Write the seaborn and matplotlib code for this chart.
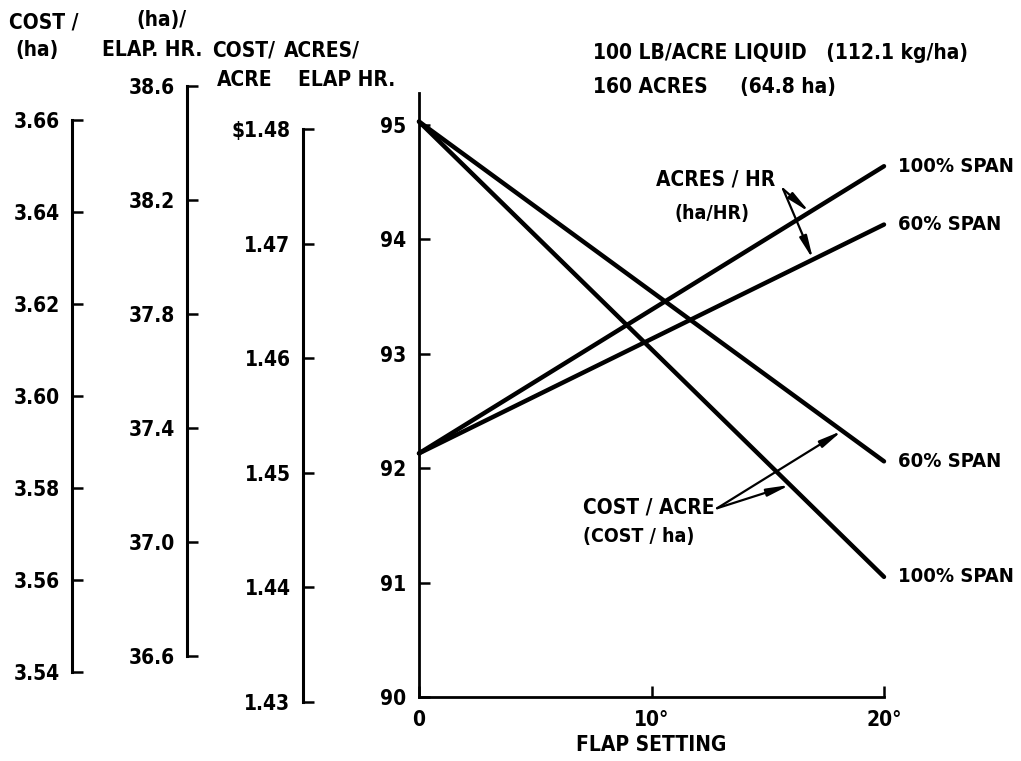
import numpy as np
import pandas as pd
import seaborn as sns
import matplotlib.pyplot as plt
from matplotlib import font_manager

# values
flap = [0, 20]
acres_100 = [92.13, 94.64]
acres_60 = [92.13, 94.13]
cost_60 = [95.03, 92.06]
cost_100 = [95.03, 91.05]

main_ticks = [90, 91, 92, 93, 94, 95]
cost_acre_ticks = [1.43, 1.44, 1.45, 1.46, 1.47, 1.48]
cost_acre_labels = ["1.43", "1.44", "1.45", "1.46", "1.47", "$1.48"]
ha_hr_ticks = [36.6, 37.0, 37.4, 37.8, 38.2, 38.6]
cost_ha_ticks = [3.54, 3.56, 3.58, 3.60, 3.62, 3.64, 3.66]
x_ticks = [0, 10, 20]
x_labels = ["0", "10°", "20°"]

sns.set_style("white")
names = {f.name for f in font_manager.fontManager.ttflist}
narrow = [n for n in ["Liberation Sans Narrow", "DejaVu Sans Condensed"] if n in names]
plt.rcParams["font.family"] = narrow + ["DejaVu Sans"]
plt.rcParams["font.stretch"] = "condensed"
plt.rcParams["font.weight"] = "bold"
plt.rcParams["font.size"] = 15
for k in ["text.color", "axes.labelcolor", "xtick.color", "ytick.color"]:
    plt.rcParams[k] = "black"

W, H = 1021, 761
fig = plt.figure(figsize=(W / 100, H / 100), dpi=100)


def fx(px):
    return px / W


def fy(py):
    return 1 - py / H


# main plot
ax = fig.add_axes([fx(419), fy(697), fx(884) - fx(419), fy(93) - fy(697)])
ax.set_facecolor("none")

df = pd.DataFrame({
    "flap": flap * 4,
    "val": acres_100 + acres_60 + cost_60 + cost_100,
    "series": ["a100"] * 2 + ["a60"] * 2 + ["c60"] * 2 + ["c100"] * 2,
})
sns.lineplot(data=df, x="flap", y="val", units="series", estimator=None,
             color="black", lw=3.2, ax=ax, clip_on=False)

ax.set_xlim(0, 20)
ax.set_ylim(90, 95.28)
ax.set_xticks(x_ticks)
ax.set_xticklabels(x_labels)
ax.set_yticks(main_ticks)
ax.set_yticklabels([str(t) for t in main_ticks])
ax.tick_params(direction="in", length=8, width=1.8, pad=9, left=True, bottom=True)
ax.set_xlabel("FLAP SETTING", labelpad=4, fontweight="bold")
ax.set_ylabel("")
for s in ["top", "right"]:
    ax.spines[s].set_visible(False)
for s in ["left", "bottom"]:
    ax.spines[s].set_linewidth(2)
    ax.spines[s].set_color("black")

# span labels next to line ends
for y, lab in [(acres_100[1], "100% SPAN"), (acres_60[1], "60% SPAN"),
               (cost_60[1], "60% SPAN"), (cost_100[1], "100% SPAN")]:
    ax.annotate(lab, xy=(20, y), xytext=(10, 0), textcoords="offset points",
                ha="left", va="center", fontsize=14.5)

# callouts
arrow = dict(arrowstyle="-|>,head_length=0.9,head_width=0.15", color="black",
             lw=1.6, shrinkA=0, shrinkB=0)
ax.text(12.77, 94.52, "ACRES / HR", ha="center", va="center")
ax.text(12.6, 94.23, "(ha/HR)", ha="center", va="center", fontsize=14)
for xa, ys in [(16.8, acres_100), (16.95, acres_60)]:
    ax.annotate("", xy=(xa, np.interp(xa, flap, ys)), xytext=(15.66, 94.44),
                arrowprops=arrow)

ax.text(7.05, 91.66, "COST / ACRE", ha="left", va="center")
ax.text(7.05, 91.40, "(COST / ha)", ha="left", va="center", fontsize=14)
for xa, ys in [(18.2, cost_60), (15.96, cost_100)]:
    ax.annotate("", xy=(xa, np.interp(xa, flap, ys)), xytext=(12.82, 91.65),
                arrowprops=arrow)


# extra scales on the left
def scale_axis(x_px, top_px, bot_px, ticks, labels, lim):
    a = fig.add_axes([fx(x_px), fy(bot_px), 0.001, fy(top_px) - fy(bot_px)])
    a.set_facecolor("none")
    a.set_ylim(*lim)
    a.set_yticks(ticks)
    a.set_yticklabels(labels)
    a.xaxis.set_visible(False)
    for s in ["top", "right", "bottom"]:
        a.spines[s].set_visible(False)
    a.spines["left"].set_linewidth(2.2)
    a.spines["left"].set_color("black")
    a.tick_params(axis="y", direction="in", length=8, width=1.8, pad=9, left=True)
    return a


scale_axis(303, 129, 702, cost_acre_ticks, cost_acre_labels, (1.43, 1.48))
scale_axis(187, 86, 656, ha_hr_ticks, [f"{t:.1f}" for t in ha_hr_ticks], (36.6, 38.6))
scale_axis(72, 120, 672, cost_ha_ticks, [f"{t:.2f}" for t in cost_ha_ticks], (3.54, 3.66))

# headers
hdr = [("COST /", 44, 22), ("(ha)", 37, 50), ("(ha)/", 161, 20),
       ("ELAP. HR.", 152, 50), ("COST/", 244, 50), ("ACRE", 245, 80),
       ("ACRES/", 322, 50), ("ELAP HR.", 347, 80)]
for t, x, y in hdr:
    fig.text(fx(x), fy(y), t, ha="center", va="center")

fig.text(fx(593), fy(53), "100 LB/ACRE LIQUID   (112.1 kg/ha)", ha="left", va="center")
fig.text(fx(593), fy(87), "160 ACRES     (64.8 ha)", ha="left", va="center")

fig.savefig("out.png", dpi=100, facecolor="white")
